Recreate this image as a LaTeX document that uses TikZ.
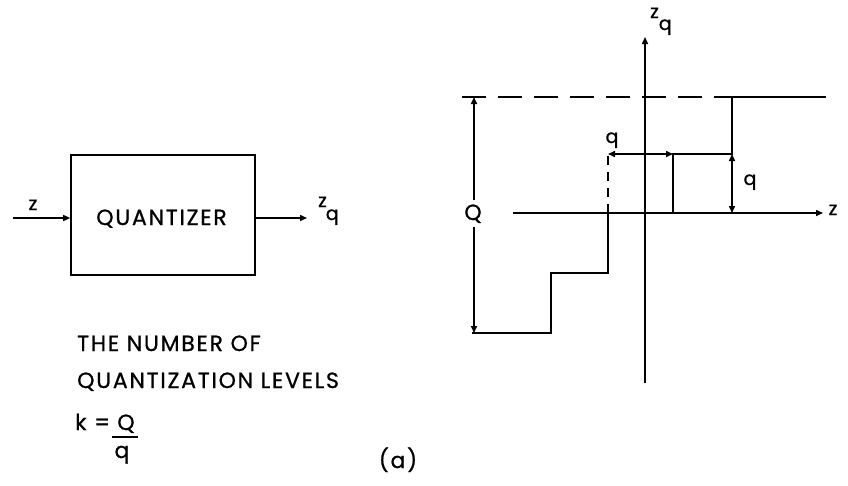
\documentclass[tikz,border=0pt]{standalone}
\usepackage{fontspec}
\setmainfont{Poppins}
\newfontfamily\gfont{Poppins}[LetterSpace=8,FakeBold=0.8]
\usetikzlibrary{arrows.meta}
\begin{document}
\begin{tikzpicture}[x=1pt,y=-1pt,
  lbl/.style={inner sep=0pt,font=\gfont\fontsize{22}{26}\selectfont},
  sm/.style={inner sep=0pt,font=\gfont\fontsize{19}{22}\selectfont},
  ax/.style={line width=1.5pt},
  stair/.style={line width=2.2pt,line join=miter},
  tip/.style={-{Triangle[length=7pt,width=6pt]}},
  dtip/.style={{Triangle[length=7pt,width=6pt]}-{Triangle[length=7pt,width=6pt]}},
  blk/.style={draw,line width=1.6pt,minimum width=184pt,minimum height=120pt,inner sep=0pt}]
\useasboundingbox (0,0) rectangle (848,485);
% block diagram
\node[blk] (quant) at (163,215) {};
\node[lbl,anchor=base] (qt) at (161.5,225) {QUANTIZER};
\coordinate (in) at (13,218);
\coordinate (out) at (307,218);
\draw[ax,tip] (in) -- (quant.west |- in);
\draw[ax,tip] (quant.east |- out) -- (out);
\node[sm,anchor=base] (zin) at (33,210) {z};
\node[sm,anchor=base west] (zout) at (318,207) {z\kern-1pt\raisebox{-13pt}{q}};
% text
\node[lbl,anchor=base west] (t1) at (77,351) {THE NUMBER OF};
\node[lbl,anchor=base west] (t2) at (77,388) {QUANTIZATION LEVELS};
\node[lbl,anchor=base west] (t3) at (75,430) {k =};
\node[lbl,anchor=base] (fQ) at (126,430) {Q};
\node[lbl,anchor=base] (fq) at (122,458) {q};
\coordinate (barl) at (112,437);
\coordinate (barr) at (138,437);
\draw[line width=1.3pt] (barl) -- (barr);
\node[lbl,anchor=base] (cap) at (398,468) {(a)};
% plot
\coordinate (vb) at (645,383);
\coordinate (vt) at (645,37);
\coordinate (hl) at (513,213);
\coordinate (hr) at (823,213);
\draw[ax,tip] (vb) -- (vt);
\draw[ax,tip] (hl) -- (hr);
\node[sm,anchor=base west] (zqax) at (650,18) {z\kern0pt\raisebox{-12pt}{q}};
\node[sm,anchor=base] (zax) at (833,215) {z};
% staircase
\coordinate (s0) at (472,333);
\coordinate (s1) at (551,333);
\coordinate (s2) at (551,273);
\coordinate (s3) at (608,273);
\coordinate (s4) at (608,213);
\coordinate (s5) at (673,213);
\coordinate (s6) at (673,154);
\coordinate (s7) at (732,154);
\coordinate (s8) at (732,97);
\coordinate (s9) at (826,97);
\draw[stair] (s0) -- (s1) -- (s2) -- (s3) -- (s4) -- (s5) -- (s6) -- (s7) -- (s8) -- (s9);
\coordinate (dl) at (462,97);
\draw[ax,dash pattern=on 24pt off 12pt] (dl) -- (s8);
\coordinate (dv) at (608,154);
\draw[ax,dash pattern=on 9pt off 7pt] (s4) -- (dv);
% dimensions
\draw[ax,dtip] (dv) -- (s6);
\node[sm,anchor=base] (qh) at (612,143) {q};
\coordinate (qb) at (732,213);
\draw[ax,dtip] (qb) -- (s7);
\node[sm,anchor=base] (qv) at (750,185) {q};
\node[lbl,anchor=base] (Q) at (473,220) {Q};
\coordinate (Qt) at (474,97);
\coordinate (Qb) at (474,333);
\draw[ax,tip] (Q.north -| Qt) ++(0,-4) -- (Qt);
\draw[ax,tip] (Q.south -| Qb) ++(0,4) -- (Qb);
\end{tikzpicture}
\end{document}
